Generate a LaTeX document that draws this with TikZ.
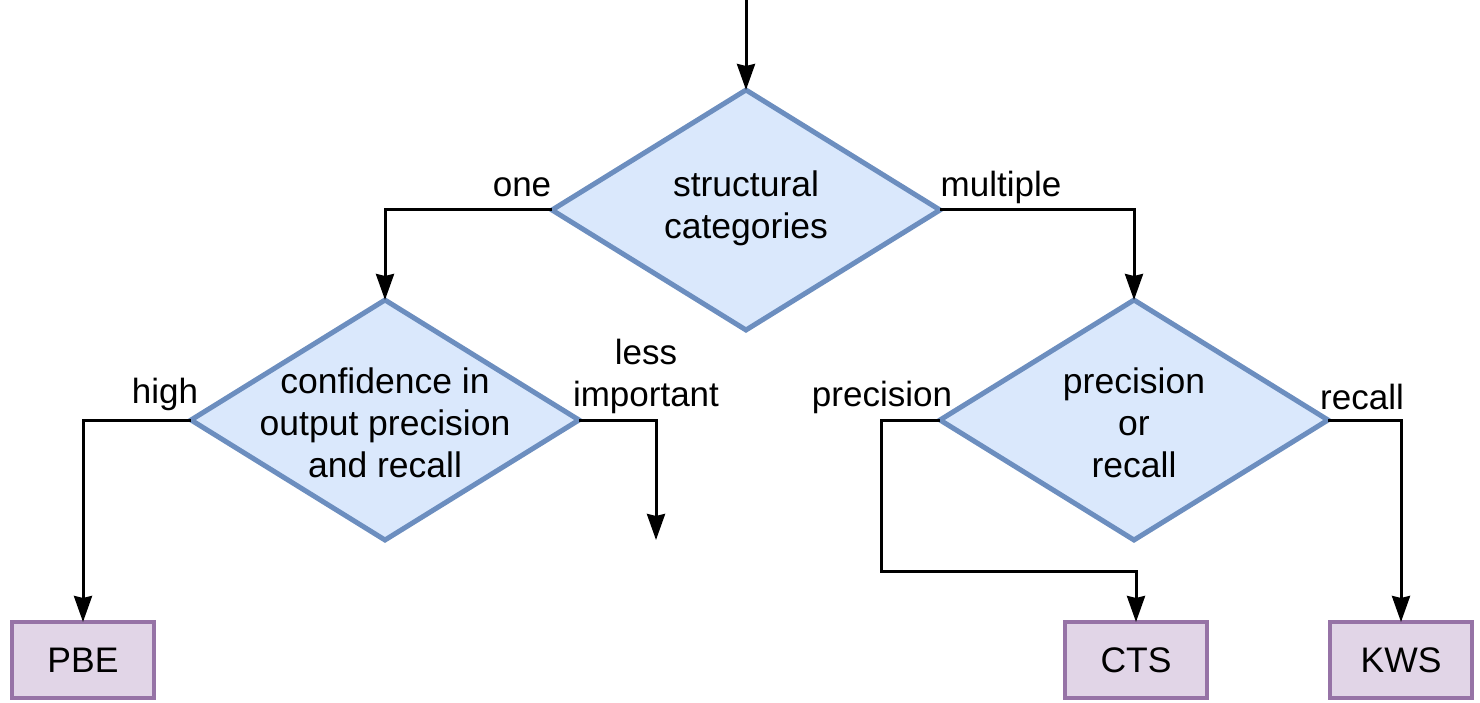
\documentclass[tikz,border=0pt]{standalone}
\usepackage{fontspec}
\setmainfont{Liberation Sans}
\usetikzlibrary{shapes.geometric,arrows.meta}
\definecolor{dfill}{HTML}{DAE8FC}
\definecolor{ddraw}{HTML}{6C8EBF}
\definecolor{bfill}{HTML}{E1D5E7}
\definecolor{bdraw}{HTML}{9673A6}
\tikzset{
  dia/.style={diamond, draw=ddraw, fill=dfill, line width=5pt, minimum width=388pt, minimum height=240pt, inner sep=0pt, outer sep=0pt},
  txt/.style={align=center, font=\fontsize{35.5}{42}\selectfont, inner sep=0pt},
  res/.style={rectangle, draw=bdraw, fill=bfill, line width=3.5pt, minimum width=142pt, minimum height=76pt, inner sep=0pt, outer sep=0pt, font=\fontsize{35.5}{40}\selectfont},
  lbl/.style={align=center, font=\fontsize{35}{42}\selectfont, inner sep=0pt},
  edge/.style={line width=3pt, -{Stealth[length=26pt,width=18pt,inset=2pt]}},
}
\begin{document}
\begin{tikzpicture}[x=1pt,y=-1pt]
\useasboundingbox (0,0) rectangle (1480,703);
% diamonds
\node[dia] (d1) at (746,210) {};
\node[txt] (t1) at (746,208) {structural\\categories};
\node[dia] (d2) at (385,420) {};
\node[txt] (t2) at (385,423) {confidence in\\output precision\\and recall};
\node[dia] (d3) at (1134,420) {};
\node[txt] (t3) at (1134,423) {precision\\or\\recall};
% results
\node[res] (pbe) at (83,660) {PBE};
\node[res] (cts) at (1136,660) {CTS};
\node[res] (kws) at (1401,660) {KWS};
% free ends
\coordinate (start) at (746,0);
\coordinate (lessend) at (656,540);
% connectors
\draw[edge] (start) -- (d1.north);
\draw[edge] (d1.west) -| (d2.north);
\draw[edge] (d1.east) -| (d3.north);
\draw[edge] (d2.west) -| (pbe.north);
\draw[edge] (d2.east) -| (lessend);
\draw[edge] (d3.west) -- (881,420) -- (881,571) -| (cts.north);
\draw[edge] (d3.east) -| (kws.north);
% labels
\node[lbl] (l1) at (522,187) {one};
\node[lbl] (l2) at (1001,187) {multiple};
\node[lbl] (l3) at (165,394) {high};
\node[lbl] (l4) at (646,376) {less\\important};
\node[lbl] (l5) at (882,397) {precision};
\node[lbl] (l6) at (1362,397) {recall};
\end{tikzpicture}
\end{document}
